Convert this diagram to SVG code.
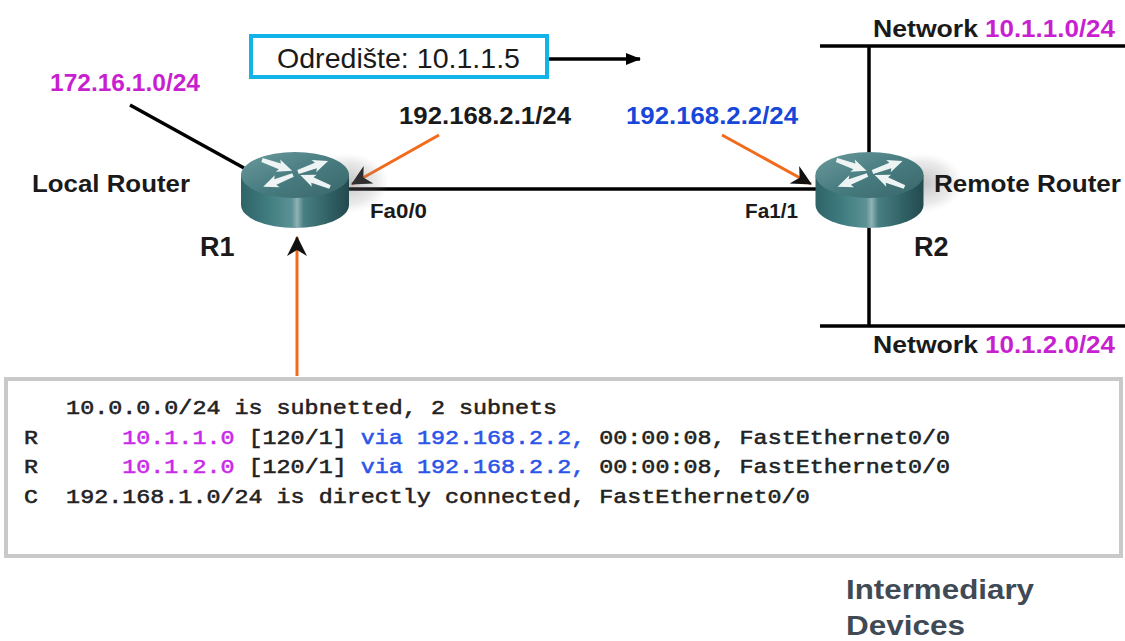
<svg xmlns="http://www.w3.org/2000/svg" width="1125" height="641" viewBox="0 0 1125 641">
<style>
text{font-family:"Liberation Sans",Arial,sans-serif;fill:#1a1a1a}
.l{font-size:24.5px;font-weight:bold}
.m{fill:#c81fd0}
.u{fill:#1747d8}
.f{font-size:20px;font-weight:bold}
.t{font-family:"Liberation Mono","Courier New",monospace;font-weight:normal;font-size:21px;white-space:pre;fill:#222;stroke:#222;stroke-width:.55px}
.tm{fill:#c82ae8;stroke:#c82ae8}
.tb{fill:#2a55e8;stroke:#2a55e8}
.w{stroke:#000;stroke-width:3.5;fill:none}
.o{stroke:#f26a1b;stroke-width:3;fill:none}
</style>
<defs>
<linearGradient id="side" x1="0" x2="1" y1="0" y2="0">
<stop offset="0" stop-color="#2f6468"/><stop offset=".25" stop-color="#3f7c80"/><stop offset=".47" stop-color="#5c9296"/><stop offset=".52" stop-color="#8fb2b5"/><stop offset=".58" stop-color="#487f83"/><stop offset=".85" stop-color="#2d5c60"/><stop offset="1" stop-color="#234a4e"/>
</linearGradient>
<linearGradient id="top" x1="0" x2="1" y1="0" y2="1">
<stop offset="0" stop-color="#6a9a9d"/><stop offset=".55" stop-color="#467a7e"/><stop offset="1" stop-color="#3a6669"/>
</linearGradient>
<radialGradient id="shadow" cx=".5" cy=".5" r=".5">
<stop offset="0" stop-color="#666" stop-opacity=".4"/><stop offset=".7" stop-color="#888" stop-opacity=".18"/><stop offset="1" stop-color="#aaa" stop-opacity="0"/>
</radialGradient>
<marker id="ah" markerWidth="24" markerHeight="22" refX="19" refY="10" orient="auto" markerUnits="userSpaceOnUse"><path d="M0 0L20 10L0 20L6 10Z" fill="#111"/></marker>
<marker id="as" markerWidth="17" markerHeight="14" refX="14" refY="6" orient="auto" markerUnits="userSpaceOnUse"><path d="M0 0L15 6L0 12Z" fill="#000"/></marker>
<path id="wa" d="M0 -2L19 -3L17 -6.5L32 0L17 6.5L19 3L0 2Z" fill="#eef3f3"/>
<g id="router">
<ellipse cx="52" cy="8" rx="42" ry="30" fill="url(#shadow)"/>
<path d="M-54 0V30A54 23 0 0 0 54 30V0Z" fill="url(#side)"/>
<ellipse cx="0" cy="0" rx="54" ry="23" fill="url(#top)"/>
<use href="#wa" transform="translate(-33,-15) rotate(19.6)"/>
<use href="#wa" transform="translate(3,-3) rotate(-20)"/>
<use href="#wa" transform="translate(-2,0) rotate(158.6)"/>
<use href="#wa" transform="translate(35,12) rotate(201.8)"/>
</g>
</defs>
<rect width="1125" height="641" fill="#fff"/>
<g id="connectors">
<path class="w" d="M349 189H816"/>
<path class="w" d="M130 105L244 168"/>
<path class="w" d="M820 46H1125"/>
<path class="w" d="M820 326H1125"/>
<path class="w" d="M869 46V155"/>
<path class="w" d="M869 226V326"/>
<path class="w" d="M549 59H640" marker-end="url(#as)"/>
<path class="o" d="M439 135L352 184" marker-end="url(#ah)"/>
<path class="o" d="M722 135L811 184" marker-end="url(#ah)"/>
<path class="o" d="M297 376V237" marker-end="url(#ah)"/>
</g>
<g id="r1"><use href="#router" x="295" y="175"/><text class="l" x="200" y="256" style="font-size:27px">R1</text></g>
<g id="r2"><use href="#router" x="869.5" y="175"/><text class="l" x="914" y="256" style="font-size:27px">R2</text></g>
<g id="labels">
<text class="l m" x="50" y="91" textLength="150" lengthAdjust="spacingAndGlyphs">172.16.1.0/24</text>
<text class="l" x="32" y="192" textLength="158" lengthAdjust="spacingAndGlyphs">Local Router</text>
<text class="l" x="934" y="192" textLength="187" lengthAdjust="spacingAndGlyphs">Remote Router</text>
<text class="l" x="399" y="124" textLength="172" lengthAdjust="spacingAndGlyphs">192.168.2.1/24</text>
<text class="l u" x="626" y="124" textLength="172" lengthAdjust="spacingAndGlyphs">192.168.2.2/24</text>
<text class="f" x="370" y="218" textLength="57" lengthAdjust="spacingAndGlyphs">Fa0/0</text>
<text class="f" x="745" y="218" textLength="53" lengthAdjust="spacingAndGlyphs">Fa1/1</text>
<text class="l" x="873" y="37" textLength="105" lengthAdjust="spacingAndGlyphs">Network</text>
<text class="l m" x="985" y="37" textLength="130" lengthAdjust="spacingAndGlyphs">10.1.1.0/24</text>
<text class="l" x="873" y="353" textLength="105" lengthAdjust="spacingAndGlyphs">Network</text>
<text class="l m" x="985" y="353" textLength="130" lengthAdjust="spacingAndGlyphs">10.1.2.0/24</text>
</g>
<g id="destination">
<rect x="251" y="36" width="296" height="41" fill="#fff" stroke="#12b3e8" stroke-width="4"/>
<text x="277" y="68" style="font-size:28px" textLength="243" lengthAdjust="spacingAndGlyphs">Odredište: 10.1.1.5</text>
</g>
<g id="table">
<rect x="6" y="379" width="1115" height="177" fill="#fff" stroke="#c9c9c9" stroke-width="4"/>
<g transform="scale(1.1135,1)">
<text class="t" x="21.6" y="414">   10.0.0.0/24 is subnetted, 2 subnets</text>
<text class="t" x="21.6" y="444">R      <tspan class="tm">10.1.1.0</tspan> [120/1] <tspan class="tb">via 192.168.2.2,</tspan> 00:00:08, FastEthernet0/0</text>
<text class="t" x="21.6" y="473">R      <tspan class="tm">10.1.2.0</tspan> [120/1] <tspan class="tb">via 192.168.2.2,</tspan> 00:00:08, FastEthernet0/0</text>
<text class="t" x="21.6" y="503">C  192.168.1.0/24 is directly connected, FastEthernet0/0</text>
</g>
</g>
<g id="footer">
<text x="846" y="599" style="font-size:28px;font-weight:bold;fill:#3f4a55" textLength="188" lengthAdjust="spacingAndGlyphs">Intermediary</text>
<text x="846" y="635" style="font-size:28px;font-weight:bold;fill:#3f4a55" textLength="119" lengthAdjust="spacingAndGlyphs">Devices</text>
</g>
</svg>
